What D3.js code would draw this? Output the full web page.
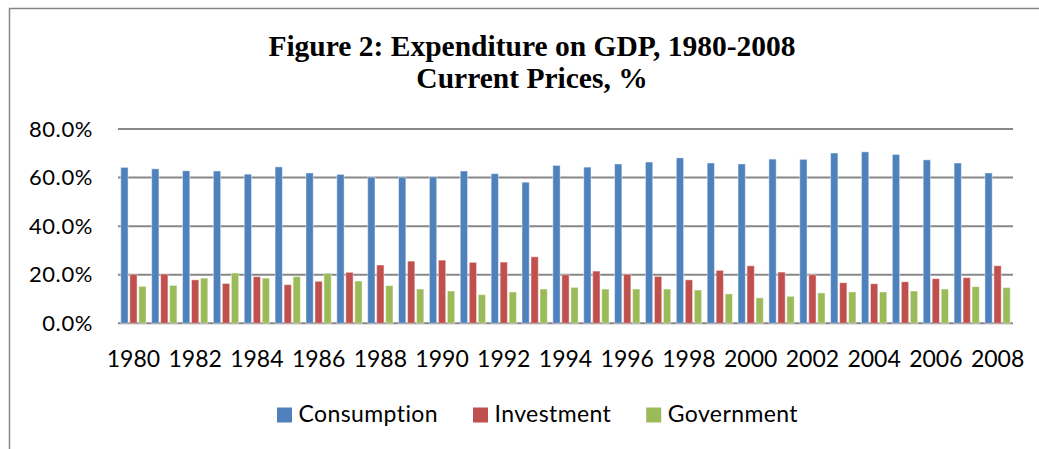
<!DOCTYPE html>
<html>
<head>
<meta charset="utf-8">
<script src="https://cdn.jsdelivr.net/npm/d3@7"></script>
<style>
  html, body { margin: 0; padding: 0; background: #fff; }
  svg { display: block; }
</style>
</head>
<body>
<div id="chart"></div>
<script>
// Datos (% del PIB)
const years = d3.range(1980, 2009).map(String);
const seriesNames = ["Consumption", "Investment", "Government"];
const consumption = [64.2, 63.6, 62.8, 62.7, 61.4, 64.4, 61.9, 61.3, 60.2, 60.2,
  60.3, 62.7, 61.6, 58.1, 65.0, 64.3, 65.6, 66.4, 68.1, 66.0,
  65.6, 67.6, 67.5, 70.1, 70.6, 69.5, 67.3, 66.0, 61.9];
const investment = [20.2, 20.3, 17.9, 16.4, 19.2, 15.9, 17.3, 21.0, 24.0, 25.6,
  26.0, 25.1, 25.2, 27.4, 20.0, 21.5, 20.2, 19.3, 17.9, 21.8,
  23.7, 21.1, 20.0, 16.7, 16.3, 17.1, 18.4, 18.8, 23.7];
const government = [15.2, 15.6, 18.6, 20.7, 18.6, 19.2, 20.6, 17.4, 15.5, 14.1,
  13.3, 11.8, 12.9, 14.1, 14.8, 14.1, 14.1, 14.1, 13.7, 12.1,
  10.5, 11.1, 12.5, 12.9, 12.9, 13.3, 14.1, 15.1, 14.7];
const yTicks = [0, 20, 40, 60, 80];
const xLabels = years.filter((d, i) => i % 2 === 0);

const colors = ["#4F81BD", "#C0504D", "#9BBB59"];
const values = [consumption, investment, government];

const W = 1039, H = 449;
const margin = { top: 129, right: 26, bottom: 125.7, left: 118 };

const svg = d3.select("#chart").append("svg")
  .attr("width", W).attr("height", H);

// Marco del gráfico (solo arriba e izquierda, recortado)
svg.append("path")
  .attr("d", `M9.5,${H} L9.5,8.5 L${W},8.5`)
  .attr("fill", "none")
  .attr("stroke", "#868686")
  .attr("stroke-width", 1.5);

// Título
const title = svg.append("text")
  .attr("text-anchor", "middle")
  .attr("font-family", "'Liberation Serif', 'Times New Roman', serif")
  .attr("font-weight", "bold")
  .attr("font-size", 29.5)
  .attr("fill", "#000");
title.append("tspan").attr("x", 532).attr("y", 55.7).text("Figure 2: Expenditure on GDP, 1980-2008");
title.append("tspan").attr("x", 532).attr("y", 88.3).text("Current Prices, %");

const x0 = d3.scaleBand()
  .domain(years)
  .range([margin.left, W - margin.right])
  .paddingInner(0).paddingOuter(0);

const x1 = d3.scaleBand()
  .domain(seriesNames)
  .range([0, x0.bandwidth()])
  .paddingInner(0.19).paddingOuter(0.31);

const y = d3.scaleLinear()
  .domain([0, 80])
  .range([H - margin.bottom, margin.top]);

// Líneas de cuadrícula
svg.append("g")
  .selectAll("line")
  .data(yTicks)
  .join("line")
  .attr("x1", margin.left).attr("x2", W - margin.right)
  .attr("y1", d => y(d)).attr("y2", d => y(d))
  .attr("stroke", "#878787")
  .attr("stroke-width", 2);

// Eje Y
const yAxis = svg.append("g")
  .attr("transform", `translate(${margin.left},0)`)
  .call(d3.axisLeft(y).tickValues(yTicks).tickSize(0).tickPadding(25)
    .tickFormat(d => d.toFixed(1) + "%"));
yAxis.select(".domain").remove();
yAxis.selectAll("text")
  .attr("font-family", "Lato, sans-serif")
  .attr("font-size", 22)
  .attr("letter-spacing", 0.6)
  .attr("fill", "#000");

// Barras
const groups = svg.append("g")
  .selectAll("g")
  .data(years)
  .join("g")
  .attr("transform", d => `translate(${x0(d)},0)`);

groups.selectAll("rect")
  .data((d, i) => seriesNames.map((s, k) => ({ s, k, v: values[k][i] })))
  .join("rect")
  .attr("x", d => x1(d.s))
  .attr("y", d => y(d.v))
  .attr("width", x1.bandwidth())
  .attr("height", d => y(0) - y(d.v))
  .attr("fill", d => colors[d.k])
  .attr("stroke", "#fff")
  .attr("stroke-opacity", 0.45)
  .attr("stroke-width", 1);

// Eje X
const xAxis = svg.append("g")
  .attr("transform", `translate(0,${y(0)})`)
  .call(d3.axisBottom(x0).tickValues(xLabels).tickSize(0).tickPadding(27));
xAxis.select(".domain").remove();
xAxis.selectAll("text")
  .attr("font-family", "Lato, sans-serif")
  .attr("font-size", 23)
  .attr("fill", "#000");

// Leyenda
const legend = svg.append("g");
const items = legend.selectAll("g")
  .data(seriesNames)
  .join("g");
items.append("rect")
  .attr("width", 15).attr("height", 15)
  .attr("y", 407.5)
  .attr("fill", (d, i) => colors[i]);
items.append("text")
  .attr("x", 21.5)
  .attr("y", 421.7)
  .attr("font-family", "Lato, sans-serif")
  .attr("font-size", 23)
  .attr("letter-spacing", 0.4)
  .attr("fill", "#000")
  .text(d => d);
let lx = 0;
items.each(function () {
  const g = d3.select(this);
  g.attr("transform", `translate(${lx},0)`);
  lx += 21.5 + g.select("text").node().getComputedTextLength() + 35;
});
const legendW = lx - 35;
legend.attr("transform", `translate(${537.5 - legendW / 2},0)`);
</script>
</body>
</html>
